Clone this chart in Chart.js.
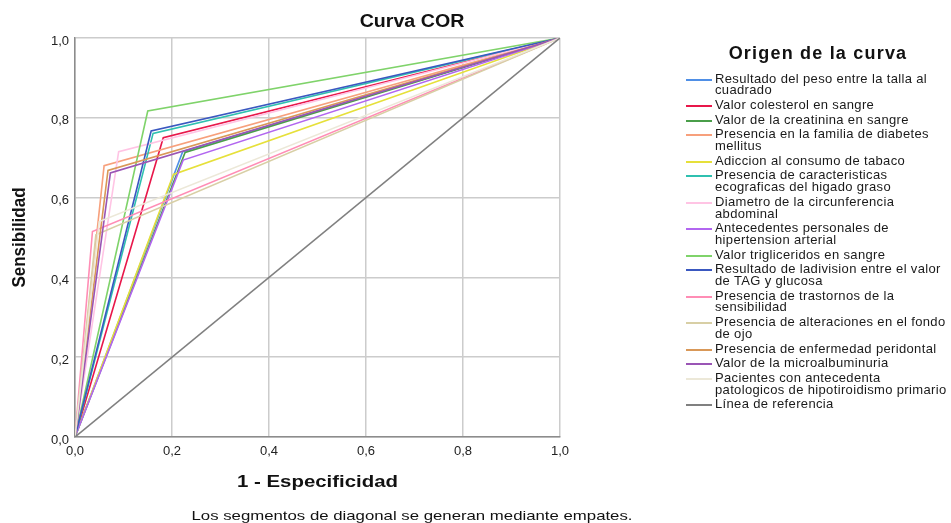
<!DOCTYPE html>
<html>
<head>
<meta charset="utf-8">
<script src="https://cdn.jsdelivr.net/npm/chart.js@4.4.1/dist/chart.umd.min.js"></script>
<style>
  html, body { margin: 0; padding: 0; background: #fff; }
  #wrap { position: relative; width: 951px; height: 523px; overflow: hidden; font-family: "Liberation Sans", Arial, sans-serif; }
  #c { position: absolute; left: 0; top: 0; }
  #legTitle { position: absolute; left: 690px; width: 256px; top: 42px; text-align: center; font-weight: bold; font-size: 18px; letter-spacing: 1.2px; color: #111; line-height: 22px; }
  #legend { position: absolute; left: 686px; top: 72.5px; }
  .row { display: flex; align-items: flex-start; margin-bottom: 3px; }
  .sw { width: 26px; height: 2px; margin-top: 6px; flex: none; }
  .lab { margin-left: 3px; font-size: 13px; line-height: 11.7px; letter-spacing: 0.35px; color: #1a1a1a; white-space: pre-line; }
</style>
</head>
<body>
<div id="wrap">
  <canvas id="c" width="951" height="523"></canvas>
  <div id="legTitle">Origen de la curva</div>
  <div id="legend"></div>
</div>
<script>
// ---- data ----
const chartTitle = 'Curva COR';
const xAxisTitle = '1 - Especificidad';
const yAxisTitle = 'Sensibilidad';
const footnote = 'Los segmentos de diagonal se generan mediante empates.';
const legendTitle = 'Origen de la curva';

const seriesNames = [
  'Resultado del peso entre la talla al\ncuadrado',
  'Valor colesterol en sangre',
  'Valor de la creatinina en sangre',
  'Presencia en la familia de diabetes\nmellitus',
  'Adiccion al consumo de tabaco',
  'Presencia de caracteristicas\necograficas del higado graso',
  'Diametro de la circunferencia\nabdominal',
  'Antecedentes personales de\nhipertension arterial',
  'Valor trigliceridos en sangre',
  'Resultado de ladivision entre el valor\nde TAG y glucosa',
  'Presencia de trastornos de la\nsensibilidad',
  'Presencia de alteraciones en el fondo\nde ojo',
  'Presencia de enfermedad peridontal',
  'Valor de la microalbuminuria',
  'Pacientes con antecedenta\npatologicos de hipotiroidismo primario'
];
// 1 - especificidad at the single cut point of each curve
const kneeFPR = [0.222, 0.182, 0.227, 0.060, 0.203, 0.161, 0.090, 0.223, 0.150, 0.157, 0.036, 0.043, 0.068, 0.073, 0.050];
// sensibilidad at the single cut point of each curve
const kneeTPR = [0.715, 0.750, 0.713, 0.680, 0.658, 0.761, 0.715, 0.694, 0.817, 0.767, 0.515, 0.507, 0.668, 0.662, 0.540];
const refName = 'Línea de referencia';
const refX = [0, 1];
const refY = [0, 1];
const tickValues = [0, 0.2, 0.4, 0.6, 0.8, 1.0];

// ---- styles ----
const seriesColors = ['#4f8fe6', '#e8174a', '#4a9e4a', '#f7a07c', '#e6e03a', '#2fc0b0', '#ffc4e4', '#b266f0',
  '#7fd36a', '#3a58c0', '#ff8db5', '#d8cfa5', '#d99858', '#9a55b5', '#ece8d8'];
const refColor = '#808080';

// ---- build datasets ----
const datasets = seriesNames.map((name, i) => ({
  label: name,
  data: [{x: 0, y: 0}, {x: kneeFPR[i], y: kneeTPR[i]}, {x: 1, y: 1}],
  borderColor: seriesColors[i],
  backgroundColor: seriesColors[i],
  borderWidth: 1.6,
  pointRadius: 0,
  fill: false,
  tension: 0,
  order: 100 - i
}));
datasets.push({
  label: refName,
  data: refX.map((x, i) => ({x: x, y: refY[i]})),
  borderColor: refColor,
  backgroundColor: refColor,
  borderWidth: 1.6,
  pointRadius: 0,
  fill: false,
  order: 0
});

// ---- legend (HTML) ----
const leg = document.getElementById('legend');
datasets.forEach(ds => {
  const row = document.createElement('div');
  row.className = 'row';
  const sw = document.createElement('div');
  sw.className = 'sw';
  sw.style.background = ds.borderColor;
  const lab = document.createElement('div');
  lab.className = 'lab';
  lab.textContent = ds.label;
  row.appendChild(sw); row.appendChild(lab);
  leg.appendChild(row);
});
document.getElementById('legTitle').textContent = legendTitle;

// ---- text plugin (titles & footnote) ----
const textPlugin = {
  id: 'spssText',
  afterDraw(chart) {
    const ctx = chart.ctx, a = chart.chartArea;
    const draw = (txt, x, y, font, sx, sy, rot) => {
      ctx.save();
      ctx.translate(x, y);
      if (rot) ctx.rotate(rot);
      ctx.scale(sx, sy);
      ctx.font = font;
      ctx.fillStyle = '#111';
      ctx.textAlign = 'center';
      ctx.textBaseline = 'middle';
      ctx.fillText(txt, 0, 0);
      ctx.restore();
    };
    draw(chartTitle, 412, 22, 'bold 18px "Liberation Sans", Arial', 1.09, 1);
    draw(xAxisTitle, (a.left + a.right) / 2, 482, 'bold 17px "Liberation Sans", Arial', 1.2, 1);
    draw(yAxisTitle, 20, (a.top + a.bottom) / 2, 'bold 17px "Liberation Sans", Arial', 1, 1.12, -Math.PI / 2);
    draw(footnote, 412, 516, '13px "Liberation Sans", Arial', 1.29, 1);
  }
};

const fmt = v => Number(v).toFixed(1).replace('.', ',');

new Chart(document.getElementById('c'), {
  type: 'line',
  data: { datasets: datasets },
  options: {
    responsive: false,
    animation: false,
    layout: { padding: { left: 0, top: 38, right: 391, bottom: 0 } },
    plugins: { legend: { display: false }, title: { display: false }, tooltip: { enabled: false } },
    scales: {
      x: {
        type: 'linear', min: 0, max: 1,
        afterBuildTicks: s => { s.ticks = tickValues.map(v => ({value: v})); },
        afterFit: s => { s.height = 86; },
        grid: { color: '#cccccc', lineWidth: 1.5, drawTicks: false },
        border: { color: '#8c8c8c', width: 1.5 },
        ticks: { callback: fmt, padding: 7, color: '#222', font: { size: 13, family: '"Liberation Sans", Arial' }, maxRotation: 0 }
      },
      y: {
        type: 'linear', min: 0, max: 1,
        afterBuildTicks: s => { s.ticks = tickValues.map(v => ({value: v})); },
        afterFit: s => { s.width = 75; },
        grid: { color: '#cccccc', lineWidth: 1.5, drawTicks: false },
        border: { color: '#8c8c8c', width: 1.5 },
        ticks: { callback: fmt, padding: 6, labelOffset: 3, color: '#222', font: { size: 13, family: '"Liberation Sans", Arial' } }
      }
    }
  },
  plugins: [textPlugin]
});
</script>
</body>
</html>
